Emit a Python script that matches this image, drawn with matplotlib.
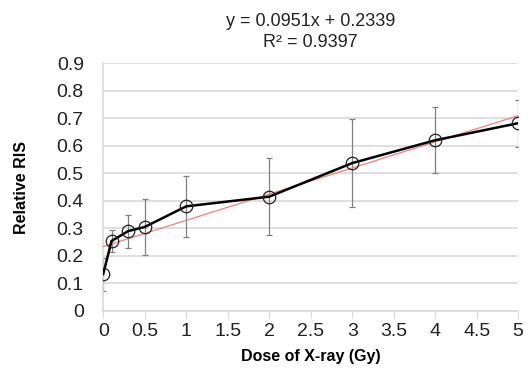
import matplotlib.pyplot as plt
import numpy as np

dose = [0, 0.1, 0.3, 0.5, 1, 2, 3, 4, 5]
ris = [0.134, 0.254, 0.29, 0.305, 0.38, 0.415, 0.537, 0.62, 0.682]
err = [0.06, 0.04, 0.06, 0.10, 0.11, 0.14, 0.16, 0.12, 0.085]
slope = 0.0951
intercept = 0.2339
r2 = 0.9397

plt.rcParams['font.family'] = ['Liberation Sans', 'DejaVu Sans']

fig = plt.figure(figsize=(5.32, 3.76), dpi=100)
ax = fig.add_axes([0.194, 0.173, 0.78, 0.659])

grid_c = '#d9d9d9'
ax.set_axisbelow(True)
ax.grid(axis='y', color=grid_c, linewidth=1.2)

ax.errorbar(dose, ris, yerr=err, fmt='none', ecolor='#808080',
            elinewidth=0.9, capsize=2, capthick=0.9, zorder=2)

xfit = np.array([dose[0], dose[-1]])
ax.plot(xfit, slope * xfit + intercept, color='#f08080', linewidth=0.9, zorder=3)

ax.plot(dose, ris, color='black', linewidth=1.8, marker='o', markersize=9,
        markerfacecolor='none', markeredgecolor='#222222', markeredgewidth=0.9, zorder=4)

ax.set_xlim(0, 5)
ax.set_ylim(0, 0.9)
ax.set_xticks(np.arange(0, 5.01, 0.5))
ax.set_xticklabels(['0', '0.5', '1', '1.5', '2', '2.5', '3', '3.5', '4', '4.5', '5'])
ax.set_yticks(np.arange(0, 0.91, 0.1))
ax.set_yticklabels(['0', '0.1', '0.2', '0.3', '0.4', '0.5', '0.6', '0.7', '0.8', '0.9'])

for s in ['top', 'right']:
    ax.spines[s].set_visible(False)
ax.spines['left'].set_color(grid_c)
ax.spines['bottom'].set_color(grid_c)
ax.spines['left'].set_linewidth(1.2)
ax.spines['bottom'].set_linewidth(1.2)
ax.tick_params(axis='y', length=0, labelsize=14, pad=14, colors='#222222')
ax.tick_params(axis='x', length=5, color=grid_c, labelsize=14, pad=4, labelcolor='#222222')

ax.set_xlabel('Dose of X-ray (Gy)', fontsize=11.5, fontweight='bold', labelpad=6)
ax.set_ylabel('Relative RIS', fontsize=11.5, fontweight='bold', labelpad=20)
ax.set_title('y = {:.4f}x + {:.4f}\nR² = {:.4f}'.format(slope, intercept, r2),
             fontsize=13, linespacing=1.25, pad=12, color='#222222')

fig.savefig('out.png', dpi=100)
